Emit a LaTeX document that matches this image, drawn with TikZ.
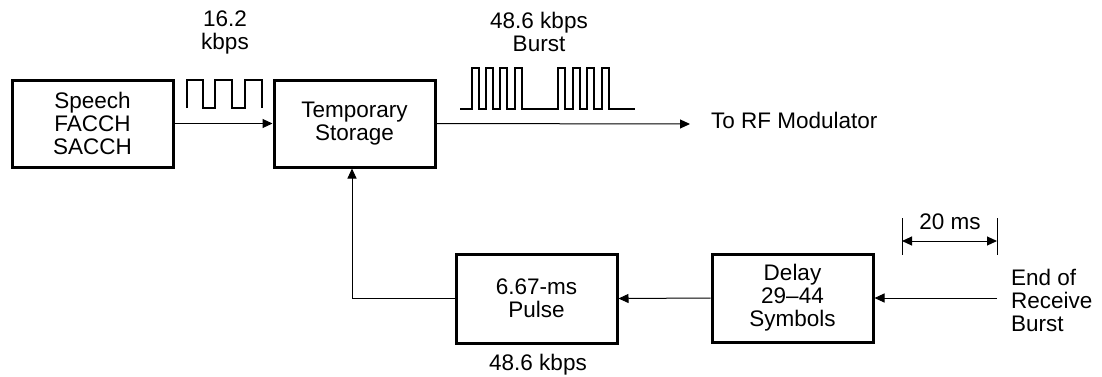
\documentclass[tikz,border=0pt]{standalone}
\usepackage{fontspec}
\setmainfont{Liberation Sans}
\usetikzlibrary{arrows.meta}
\begin{document}
\begin{tikzpicture}[x=1pt,y=-1pt,
  lbl/.style={font=\fontsize{22.5}{23}\selectfont, align=center, inner sep=0pt},
  blk/.style={draw, line width=3pt, minimum width=161pt, minimum height=87pt, lbl},
  conn/.style={line width=1pt, -{Triangle[length=10pt,width=9pt]}},
  wave/.style={line width=1.6pt, line join=miter}]
\useasboundingbox (0,0) rectangle (1102,376);
% blocks
\node[blk] (sp) at (92.5,123.5) {Speech\\FACCH\\SACCH};
\node[blk] (ts) at (354.5,123.5) {Temporary\\Storage};
\node[blk, minimum height=89pt] (pu) at (536.5,298.5) {6.67-ms\\Pulse};
\node[blk, minimum height=88pt] (dl) at (792.5,298) {Delay\\29--44\\Symbols};
% labels
\node[lbl] (r1) at (225,32) {16.2\\kbps};
\node[lbl] (r2) at (539,32) {48.6 kbps\\Burst};
\node[lbl, anchor=west] (rf) at (711,120) {To RF Modulator};
\node[lbl] (r3) at (538,365) {48.6 kbps};
\node[lbl] (ms) at (950,222) {20 ms};
\node[lbl, anchor=west, align=left] (eor) at (1011,300) {End of\\Receive\\Burst};
% connector ends
\coordinate (rfend) at (690,124);
\coordinate (eorst) at (997,298);
% connectors
\draw[conn] (sp.east) -- (ts.west);
\draw[conn] (ts.east) -- (rfend);
\draw[conn] (pu.west) -| ([xshift=-2.5pt]ts.south);
\draw[conn] (dl.west) -- (pu.east);
\draw[conn] (eorst) -- (dl.east);
% 20 ms dimension
\draw[line width=1pt] (902,218) -- (902,255);
\draw[line width=1pt] (997,218) -- (997,255);
\draw[line width=1pt, {Triangle[length=10pt,width=9pt]}-{Triangle[length=10pt,width=9pt]}] (902,241) -- (997,241);
% 16.2 kbps square wave
\draw[wave] (187,108) -- (187,80) -- (203,80) -- (203,108) -- (215,108) -- (215,80) -- (232,80) -- (232,108) -- (245,108) -- (245,80) -- (262,80) -- (262,108);
% burst waveform
\draw[wave] (460,109) -- (472,109)
  \foreach \s in {472,486,500,515} { -- (\s,109) -- (\s,68) -- (\s+7,68) -- (\s+7,109) }
  -- (558,109)
  \foreach \s in {558,573,587,602} { -- (\s,109) -- (\s,68) -- (\s+7,68) -- (\s+7,109) }
  -- (635,109);
\end{tikzpicture}
\end{document}
